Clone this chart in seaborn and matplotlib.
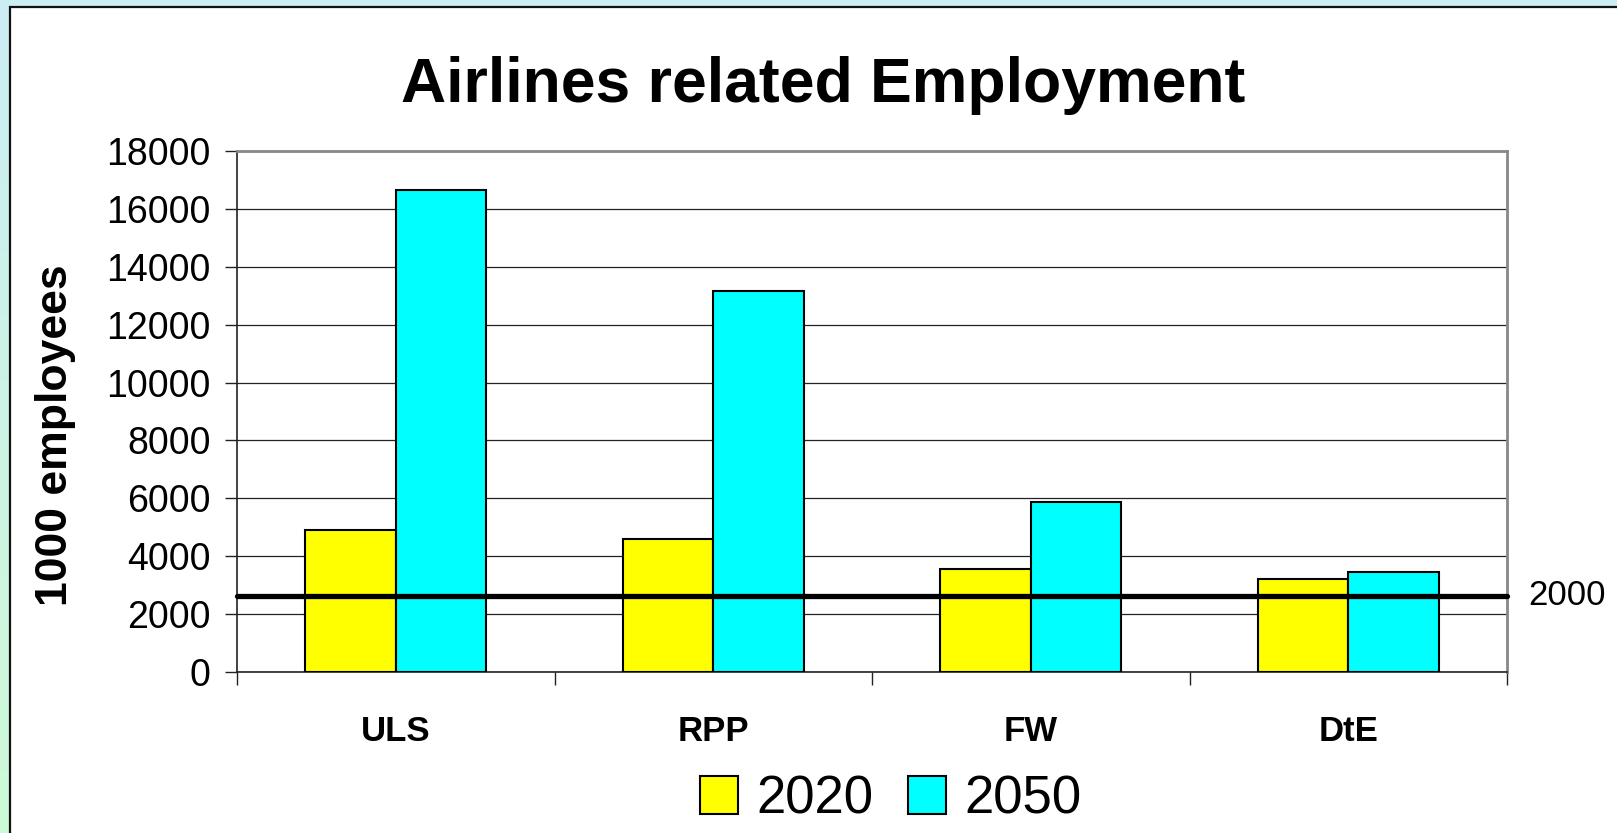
import numpy as np
import pandas as pd
import matplotlib
matplotlib.use("Agg")
import matplotlib.pyplot as plt
import seaborn as sns
from matplotlib.patches import Rectangle, Patch

categories = ["ULS", "RPP", "FW", "DtE"]
values_2020 = [4900, 4600, 3550, 3220]
values_2050 = [16650, 13150, 5870, 3470]
years = ["2020", "2050"]
baseline_2000 = 2630
y_ticks = [0, 2000, 4000, 6000, 8000, 10000, 12000, 14000, 16000, 18000]

df = pd.DataFrame({
    "category": categories * 2,
    "year": [years[0]] * 4 + [years[1]] * 4,
    "value": values_2020 + values_2050,
})

sns.set_style("white")
plt.rcParams["font.family"] = ["Liberation Sans", "DejaVu Sans"]
plt.rcParams["text.color"] = "black"
plt.rcParams["axes.labelcolor"] = "black"
plt.rcParams["xtick.color"] = "black"
plt.rcParams["ytick.color"] = "black"

fig = plt.figure(figsize=(16.17, 8.33), dpi=100)

# background gradient
bg = fig.add_axes([0, 0, 1, 1], zorder=-10)
top = np.array([0.80, 0.93, 0.96])
bot = np.array([0.80, 0.98, 0.84])
t = np.linspace(0, 1, 256)[:, None]
grad = (top[None, :] * (1 - t) + bot[None, :] * t)[:, None, :]
bg.imshow(grad, aspect="auto", extent=[0, 1, 0, 1])
bg.add_patch(Rectangle((10 / 1617, -0.01), 1.1, 1 - 7 / 833 + 0.01,
                       facecolor="white", edgecolor="#111111", linewidth=1.6,
                       transform=bg.transAxes))
bg.set_xlim(0, 1); bg.set_ylim(0, 1)
bg.axis("off")

ax = fig.add_axes([237 / 1617, 1 - 672 / 833, (1507 - 237) / 1617, (672 - 151) / 833])
sns.barplot(data=df, x="category", y="value", hue="year", order=categories,
            hue_order=years, palette=["#FFFF00", "#00FFFF"], width=0.57,
            edgecolor="black", linewidth=1.5, saturation=1, ax=ax, legend=False,
            errorbar=None, zorder=3)

ax.set_ylim(0, 18000)
ax.set_xlim(-0.5, 3.5)
ax.set_yticks(y_ticks)
ax.set_yticklabels([str(v) for v in y_ticks], fontsize=27)
ax.yaxis.grid(True, color="#222222", linewidth=0.9, zorder=0)
ax.set_axisbelow(True)

ax.set_xticks([-0.5, 0.5, 1.5, 2.5, 3.5])
ax.set_xticklabels([])
ax.set_xticks(range(len(categories)), minor=True)
ax.set_xticklabels(categories, minor=True, fontsize=25, fontweight="bold")
ax.tick_params(axis="x", which="major", direction="out", length=9, width=1, color="#222222", bottom=True)
ax.tick_params(axis="x", which="minor", length=0, pad=31)
ax.tick_params(axis="y", direction="out", length=9, width=1, color="#222222", left=True, pad=10)

for side in ["top", "right"]:
    ax.spines[side].set_color("#888888")
    ax.spines[side].set_linewidth(2)
for side in ["left", "bottom"]:
    ax.spines[side].set_color("#222222")
    ax.spines[side].set_linewidth(1.2)

ax.set_xlabel("")
ax.set_ylabel("1000 employees", fontsize=32, fontweight="bold")
ax.yaxis.set_label_coords(-0.127, 0.455)

ax.axhline(baseline_2000, color="black", linewidth=3.8, zorder=5, clip_on=False)
ax.text(1.017, baseline_2000, "2000", transform=ax.get_yaxis_transform(),
        fontsize=25, va="center", ha="left")

fig.text(0.509, 0.897, "Airlines related Employment", fontsize=45,
         fontweight="bold", ha="center", va="center")

handles = [Patch(facecolor="#FFFF00", edgecolor="black", linewidth=1.5),
           Patch(facecolor="#00FFFF", edgecolor="black", linewidth=1.5)]
fig.legend(handles, years, loc="center", bbox_to_anchor=(0.551, 0.04), ncol=2,
           frameon=False, fontsize=38, handlelength=0.72, handleheight=0.72,
           handletextpad=0.35, columnspacing=0.65)

fig.savefig("out.png", dpi=100)
